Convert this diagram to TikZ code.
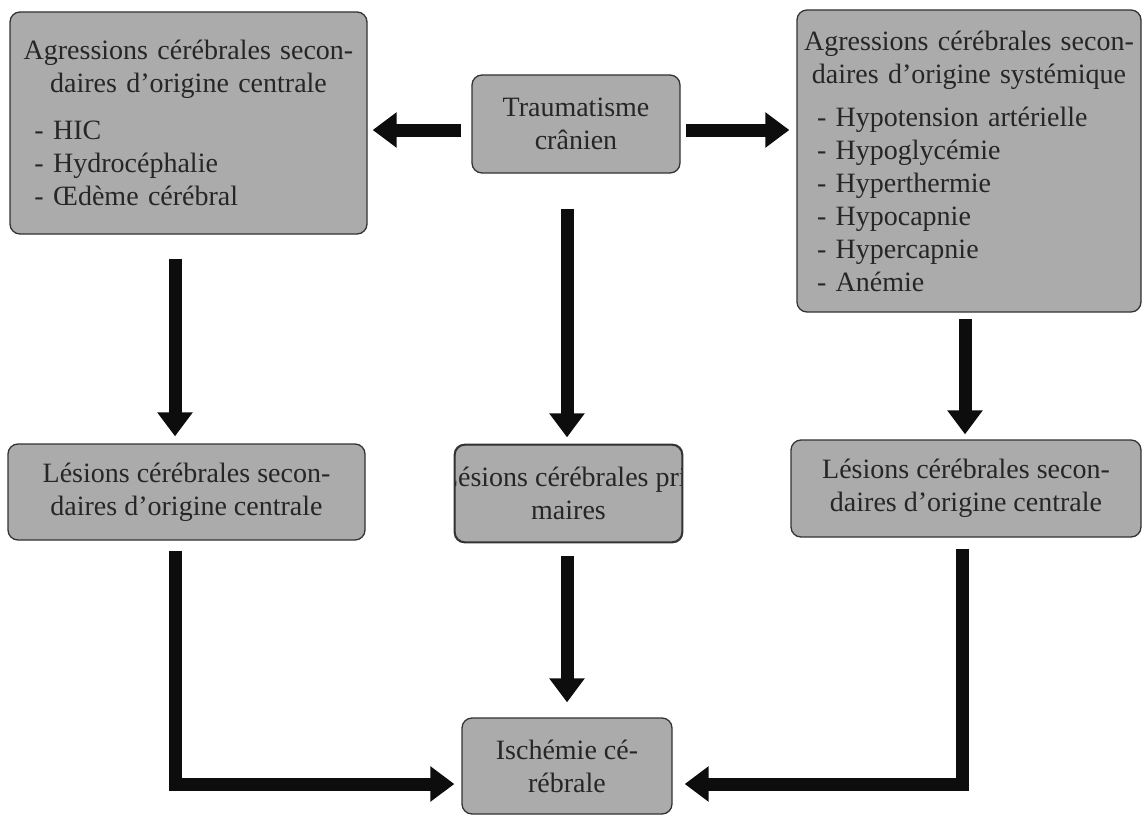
\documentclass[tikz,border=0pt]{standalone}
\usepackage{fontspec}
\setmainfont{Liberation Serif}
\usetikzlibrary{arrows.meta}
\definecolor{boxlight}{HTML}{E4E4E4}
\definecolor{boxtop}{HTML}{BEBEBE}
\definecolor{boxbody}{HTML}{ABABAB}
\definecolor{boxlow}{HTML}{9C9C9C}
\definecolor{boxdark}{HTML}{6E6E6E}
\pgfdeclareverticalshading{bevel}{100bp}{color(0bp)=(boxdark); color(6bp)=(boxlow); color(14bp)=(boxbody); color(80bp)=(boxbody); color(90bp)=(boxtop); color(96bp)=(boxlight); color(100bp)=(boxlight)}
\newcommand{\itm}[2]{\makebox[#1][l]{\hspace{16pt}- #2}}
\tikzset{
  gbox/.style={draw=black!80, line width=1.3pt, rounded corners=10pt,
    shading=bevel, inner sep=0pt,
    font=\fontsize{28}{33}\selectfont, text=black!85, align=center},
  gtxt/.style={inner sep=0pt, font=\fontsize{28}{33}\selectfont, text=black!85, align=center},
  arr/.style={line width=13pt, draw=black!95, -{Triangle[width=34pt,length=24pt]}},
}
\begin{document}
\begin{tikzpicture}[x=1pt,y=-1pt]
\useasboundingbox (0,0) rectangle (1144,816);
% boxes
\node[gbox, minimum width=357, minimum height=222, text width=340] (A) at (188.5,123)
 {Agressions cérébrales secon-\\daires d’origine centrale\\[14pt]
  \itm{340pt}{HIC}\\ \itm{340pt}{Hydrocéphalie}\\ \itm{340pt}{Œdème cérébral}};
\node[gbox, minimum width=208, minimum height=98] (T) at (576,124)
 {Traumatisme\\crânien};
\node[gbox, minimum width=344, minimum height=302, text width=336] (S) at (969,161)
 {Agressions cérébrales secon-\\daires d’origine systémique\\[10pt]
  \itm{336pt}{Hypotension artérielle}\\ \itm{336pt}{Hypoglycémie}\\
  \itm{336pt}{Hyperthermie}\\ \itm{336pt}{Hypocapnie}\\
  \itm{336pt}{Hypercapnie}\\ \itm{336pt}{Anémie}};
\node[gbox, minimum width=357, minimum height=96] (L1) at (186.5,492)
 {Lésions cérébrales secon-\\daires d’origine centrale};
\node[gbox, minimum width=227, minimum height=97] (L2) at (568.5,493.5) {};
\begin{scope}
  \clip[rounded corners=10pt] (L2.south west) rectangle (L2.north east);
  \node[gtxt] (L2t) at (L2) {Lésions cérébrales pri-\\maires};
\end{scope}
\draw[black!80, line width=1.3pt, rounded corners=10pt] (L2.south west) rectangle (L2.north east);
\node[gbox, minimum width=350, minimum height=97] (L3) at (966,488.5)
 {Lésions cérébrales secon-\\daires d’origine centrale};
\node[gbox, minimum width=210, minimum height=96] (I) at (567,766)
 {Ischémie cé-\\rébrale};
% arrows
\draw[arr] ([shift={(-10,6)}]T.west) -- ([shift={(5,7)}]A.east);
\draw[arr] ([shift={(5,6)}]T.east) -- ([shift={(-7,-31)}]S.west);
\draw[arr] ([shift={(-13.5,24)}]A.south) -- ([shift={(-11.5,-7)}]L1.north);
\draw[arr] ([shift={(-9,35)}]T.south) -- ([shift={(-1.5,-7)}]L2.north);
\draw[arr] ([shift={(-4,6)}]S.south) -- ([shift={(-1,-5)}]L3.north);
\draw[arr] ([shift={(-1.5,13)}]L2.south) -- ([shift={(0,-15)}]I.north);
\draw[arr] ([shift={(-11.5,10)}]L1.south) |- ([shift={(-7,18)}]I.west);
\draw[arr] ([shift={(-4,11)}]L3.south) |- ([shift={(12,18)}]I.east);
\end{tikzpicture}
\end{document}
